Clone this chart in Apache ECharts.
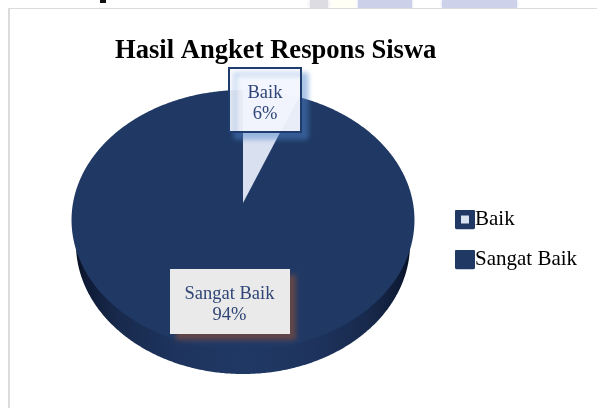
<!DOCTYPE html>
<html>
<head>
<meta charset="utf-8">
<style>html,body{margin:0;padding:0;background:#fff}#chart{width:597px;height:408px}</style>
<script src="https://cdn.jsdelivr.net/npm/echarts@6/dist/echarts.min.js"></script>
</head>
<body>
<div id="chart"></div>
<script>
// Survey results
const chartTitle = 'Hasil Angket Respons Siswa';
const categories = ['Baik', 'Sangat Baik'];
const shares = [6, 94];

const NAVY = '#1f3864';
const WEDGE = '#d9e0f0';
const LABEL_INK = '#2f4677';
const SERIF = '"Liberation Serif","Times New Roman",serif';

// Perspective disc: the slice apex sits above the centre of the rim ellipse.
const APEX_X = 243, APEX_Y = 203;
const DEPTH = 0.1308, RADIUS_X = 170, RADIUS_Y = 127.8;
const SIDE_DROP = 24, SIDE_SHRINK = 0.974;

const total = shares.reduce((a, b) => a + b, 0);
const startOf = i => shares.slice(0, i).reduce((a, b) => a + b, 0) / total * 360;

function rimPoint(deg) {
  const t = deg * Math.PI / 180;
  const w = 1 + DEPTH * Math.cos(t);
  return [APEX_X + RADIUS_X * Math.sin(t) / w, APEX_Y - RADIUS_Y * Math.cos(t) / w];
}

function slicePoints(from, to) {
  const pts = [[APEX_X, APEX_Y]];
  for (let d = from; d < to; d += 0.5) pts.push(rimPoint(d));
  pts.push(rimPoint(to));
  return pts;
}

function sidePoints() {
  const pts = [];
  for (let d = 0; d < 360; d += 0.5) {
    const p = rimPoint(d);
    pts.push([APEX_X + (p[0] - APEX_X) * SIDE_SHRINK, p[1] + SIDE_DROP]);
  }
  return pts;
}

function labelBox(i, box, fill, edge, shadow, textX, textY) {
  return [
    {
      type: 'rect',
      shape: box,
      style: {
        fill: fill, stroke: edge, lineWidth: edge ? 2 : 0,
        shadowColor: shadow, shadowBlur: 5, shadowOffsetX: 6, shadowOffsetY: 6
      }
    },
    {
      type: 'text',
      style: {
        x: textX, y: textY,
        text: categories[i] + '\n' + shares[i] + '%',
        align: 'center', verticalAlign: 'middle',
        font: '18.5px ' + SERIF, lineHeight: 21, fill: LABEL_INK
      }
    }
  ];
}

const sideFill = {
  type: 'linear', x: 0, y: 0, x2: 1, y2: 0,
  colorStops: [
    { offset: 0, color: '#070f20' }, { offset: 0.03, color: '#0f1b36' },
    { offset: 0.13, color: '#182a4d' }, { offset: 0.3, color: '#1e345e' },
    { offset: 0.5, color: '#1f3864' },
    { offset: 0.7, color: '#1e345e' }, { offset: 0.87, color: '#182a4d' },
    { offset: 0.97, color: '#0f1b36' }, { offset: 1, color: '#070f20' }
  ]
};

const renderBaik = (params, api) => {
  const sweep = api.value(0) / total * 360;
  return {
    type: 'group',
    children: [
      {
        type: 'polygon',
        shape: { points: slicePoints(startOf(0), startOf(0) + sweep) },
        style: { fill: WEDGE }
      }
    ].concat(labelBox(0, { x: 229, y: 68, width: 72, height: 64 },
      'rgba(248,250,255,0.92)', '#1f3c6e', 'rgba(80,135,205,0.5)', 265, 104))
  };
};

const renderSangat = (params, api) => {
  const sweep = api.value(0) / total * 360;
  return {
    type: 'group',
    children: [
      { type: 'polygon', shape: { points: sidePoints() }, style: { fill: sideFill } },
      {
        type: 'polygon',
        shape: { points: slicePoints(startOf(1), startOf(1) + sweep) },
        style: { fill: NAVY }
      }
    ].concat(labelBox(1, { x: 170, y: 269, width: 120, height: 65 },
      '#ebeaea', null, 'rgba(125,75,60,0.7)', 229.5, 305))
  };
};

function legendChip(inner) {
  return 'image://data:image/svg+xml;charset=utf-8,' + encodeURIComponent(
    '<svg xmlns="http://www.w3.org/2000/svg" width="20" height="20">' +
    '<rect width="20" height="20" rx="2" fill="' + NAVY + '"/>' + inner + '</svg>');
}

const chart = echarts.init(document.getElementById('chart'), null, { renderer: 'canvas' });
chart.setOption({
  animation: false,
  backgroundColor: '#ffffff',
  title: {
    text: chartTitle, left: 115, top: 38, padding: 0,
    textStyle: { fontFamily: SERIF, fontWeight: 'bold', fontSize: 26.6, color: '#000' }
  },
  legend: {
    left: 455, top: 209, padding: 0, orient: 'vertical', itemWidth: 20, itemHeight: 20, itemGap: 19,
    selectedMode: false,
    textStyle: { fontFamily: SERIF, fontSize: 21, color: '#000', padding: [0, 0, 0, -5] },
    data: [
      { name: categories[0], icon: legendChip('<rect x="6" y="6" width="8" height="8" fill="' + WEDGE + '"/>') },
      { name: categories[1], icon: legendChip('') }
    ]
  },
  graphic: [
    // Faint page remnants above the chart frame
    { type: 'rect', silent: true, shape: { x: 310, y: 0, width: 18, height: 8 }, style: { fill: '#dcdce2', shadowColor: '#dcdce2', shadowBlur: 4 } },
    { type: 'rect', silent: true, shape: { x: 332, y: 0, width: 24, height: 8 }, style: { fill: '#fffff6' } },
    { type: 'rect', silent: true, shape: { x: 358, y: 0, width: 54, height: 8 }, style: { fill: '#ccd0e8', shadowColor: '#ccd0e8', shadowBlur: 3 } },
    { type: 'rect', silent: true, shape: { x: 442, y: 0, width: 75, height: 8 }, style: { fill: '#cdd2ea', shadowColor: '#cdd2ea', shadowBlur: 3 } },
    { type: 'rect', silent: true, shape: { x: 100, y: 0, width: 6, height: 3 }, style: { fill: '#111' } },
    // White mask over the soft edge of the remnants, then the chart frame
    { type: 'rect', silent: true, shape: { x: 8, y: 8, width: 589, height: 20 }, style: { fill: '#fff' } },
    { type: 'rect', silent: true, shape: { x: 8, y: 8, width: 2, height: 400 }, style: { fill: '#dcdcdc' } },
    { type: 'rect', silent: true, shape: { x: 8, y: 8, width: 589, height: 1 }, style: { fill: '#dcdcdc' } }
  ],
  series: [
    {
      name: categories[0], type: 'custom', coordinateSystem: 'none', z: 3,
      renderItem: renderBaik, data: [[shares[0]]], itemStyle: { color: NAVY }, silent: true
    },
    {
      name: categories[1], type: 'custom', coordinateSystem: 'none', z: 2,
      renderItem: renderSangat, data: [[shares[1]]], itemStyle: { color: NAVY }, silent: true
    }
  ]
});
</script>
</body>
</html>
